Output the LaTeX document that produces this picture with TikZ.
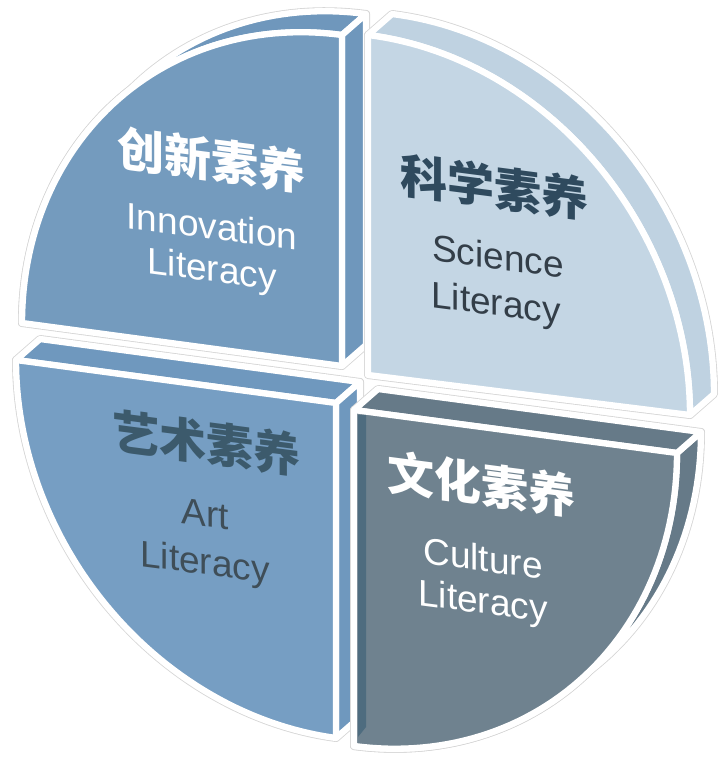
\documentclass[tikz,border=0pt]{standalone}
\usepackage{fontspec}
\setmainfont{Liberation Sans}
\newfontfamily\cjk{Noto Sans CJK SC}
\definecolor{qoneface}{HTML}{749BBE}
\definecolor{qoneband}{HTML}{6F97BC}
\definecolor{qtwoface}{HTML}{C4D6E4}
\definecolor{qtwoband}{HTML}{BFD2E1}
\definecolor{qthreeface}{HTML}{769EC3}
\definecolor{qthreeband}{HTML}{6F98BE}
\definecolor{qfourface}{HTML}{6F828F}
\definecolor{qfourband}{HTML}{667A88}
\definecolor{qfourdark}{HTML}{4E6C7F}
\definecolor{halo}{HTML}{D6D6D6}
\definecolor{sciTitle}{HTML}{2F4A5E}
\definecolor{sciText}{HTML}{333E48}
\definecolor{artTitle}{HTML}{3C5A6C}
\definecolor{artText}{HTML}{3F4E58}
\def\DX{24}
\def\DY{-21}
% curved outer surface: #1,#2 corner; #3,#4 horizontal radius vector; #5,#6 vertical radius vector; #7 style
\newcommand\curvedpiece[7]{%
  \path[#7] ({#1+(#3)},{#2+(#4)})
    -- plot[domain=0:90,samples=60,variable=\t]({#1+(#3)*cos(\t)+(#5)*sin(\t)},{#2+(#4)*cos(\t)+(#6)*sin(\t)})
    -- plot[domain=90:0,samples=60,variable=\t]({#1+\DX+(#3)*cos(\t)+(#5)*sin(\t)},{#2+\DY+(#4)*cos(\t)+(#6)*sin(\t)})
    -- cycle;}
% front face
\newcommand\frontpiece[7]{%
  \path[#7] (#1,#2)
    -- plot[domain=0:90,samples=60,variable=\t]({#1+(#3)*cos(\t)+(#5)*sin(\t)},{#2+(#4)*cos(\t)+(#6)*sin(\t)})
    -- cycle;}
% flat radial face along vector (#3,#4) from corner (#1,#2)
\newcommand\radialpiece[5]{%
  \path[#5] (#1,#2) -- ({#1+(#3)},{#2+(#4)}) -- ({#1+(#3)+\DX},{#2+(#4)+\DY}) -- ({#1+\DX},{#2+\DY}) -- cycle;}
\tikzset{
  piece/.style={draw=white, line width=6.3pt, line join=round},
  haloline/.style={draw=halo, line width=8pt, line join=round},
  cjktitle/.style={inner sep=0pt, yslant=-0.13, font=\cjk\bfseries\fontsize{47}{50}\selectfont},
  engline/.style={inner sep=0pt, yslant=-0.13, font=\fontsize{37}{40}\selectfont},
}
\begin{document}
\begin{tikzpicture}[x=1pt, y=-1pt]
\useasboundingbox (0,0) rectangle (724,757);
% ---------- Q1 : Innovation (top-left)
\curvedpiece{342}{366}{-320}{-43}{0}{-331}{haloline}
\radialpiece{342}{366}{0}{-331}{haloline}
\frontpiece{342}{366}{-320}{-43}{0}{-331}{haloline}
\curvedpiece{342}{366}{-320}{-43}{0}{-331}{piece, fill=qoneband}
\radialpiece{342}{366}{0}{-331}{piece, fill=qoneband}
\frontpiece{342}{366}{-320}{-43}{0}{-331}{piece, fill=qoneface}
% ---------- Q2 : Science (top-right)
\curvedpiece{368}{375}{322}{40}{0}{-340}{haloline}
\frontpiece{368}{375}{322}{40}{0}{-340}{haloline}
\curvedpiece{368}{375}{322}{40}{0}{-340}{piece, fill=qtwoband}
\frontpiece{368}{375}{322}{40}{0}{-340}{piece, fill=qtwoface}
% ---------- Q3 : Art (bottom-left)
\radialpiece{336}{403}{-320}{-43}{haloline}
\radialpiece{336}{403}{0}{335}{haloline}
\frontpiece{336}{403}{-320}{-43}{0}{335}{haloline}
\radialpiece{336}{403}{-320}{-43}{piece, fill=qthreeband}
\radialpiece{336}{403}{0}{335}{piece, fill=qthreeband}
\frontpiece{336}{403}{-320}{-43}{0}{335}{piece, fill=qthreeface}
% ---------- Q4 : Culture (bottom-right)
\curvedpiece{354}{410}{323}{43}{0}{336}{haloline}
\radialpiece{354}{410}{323}{43}{haloline}
\frontpiece{354}{410}{323}{43}{0}{336}{haloline}
\curvedpiece{354}{410}{323}{43}{0}{336}{piece, fill=qfourband}
\radialpiece{354}{410}{323}{43}{piece, fill=qfourband}
\frontpiece{354}{410}{323}{43}{0}{336}{piece, fill=qfourface}
\fill[qfourdark] (358,415) -- (366,415) -- (366,727) -- (358,737) -- cycle;
% ---------- texts
\node[cjktitle, text=white] (innoT) at (211,160) {创新素养};
\node[engline, text=white] (innoA) at (212,226) {Innovation};
\node[engline, text=white] (innoB) at (212,272) {Literacy};
\node[cjktitle, text=sciTitle] (sciT) at (494,187) {科学素养};
\node[engline, text=sciText] (sciA) at (498,256) {Science};
\node[engline, text=sciText] (sciB) at (496,306) {Literacy};
\node[cjktitle, text=artTitle] (artT) at (206,443) {艺术素养};
\node[engline, text=artText] (artA) at (205,514) {Art};
\node[engline, text=artText] (artB) at (205,565) {Literacy};
\node[cjktitle, text=white] (culT) at (481,484) {文化素养};
\node[engline, text=white] (culA) at (483,558) {Culture};
\node[engline, text=white] (culB) at (483,604) {Literacy};
\end{tikzpicture}
\end{document}
